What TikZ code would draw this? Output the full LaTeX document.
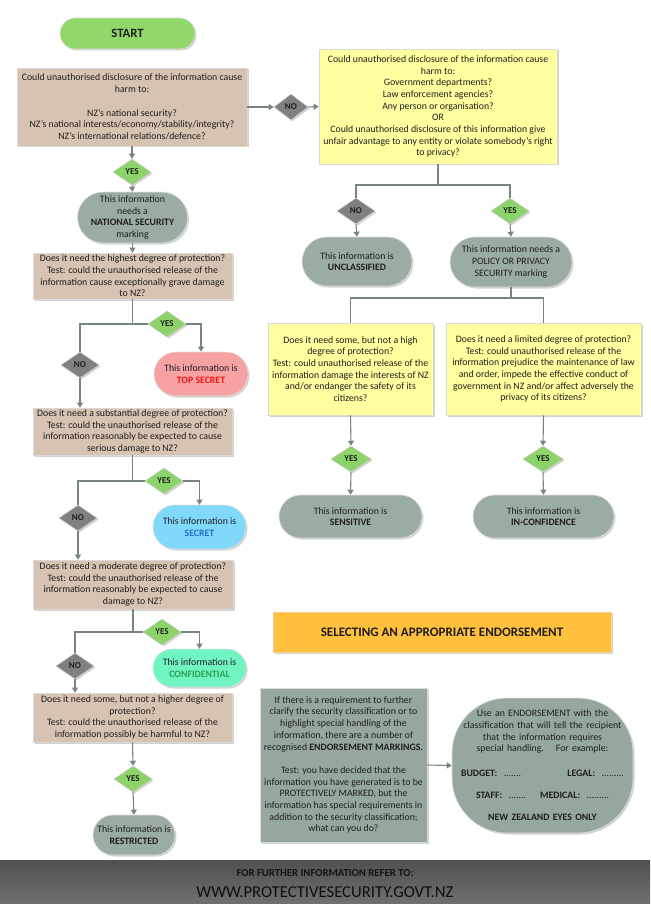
\documentclass[tikz,border=0pt]{standalone}
\usepackage{fontspec}
\setmainfont{Carlito}
\usetikzlibrary{arrows.meta,shapes.geometric,shapes.misc,shadows}
\definecolor{conn}{RGB}{118,133,128}
\definecolor{tanf}{RGB}{214,195,177}
\definecolor{yelf}{RGB}{255,255,160}
\definecolor{pillf}{RGB}{155,172,162}
\definecolor{nof}{RGB}{128,128,128}
\definecolor{yesf}{RGB}{140,212,105}
\definecolor{startf}{RGB}{145,215,105}
\definecolor{tsf}{RGB}{246,162,162}
\definecolor{tstext}{RGB}{240,20,20}
\definecolor{secf}{RGB}{128,216,250}
\definecolor{sectext}{RGB}{30,115,200}
\definecolor{conff}{RGB}{112,245,192}
\definecolor{conftext}{RGB}{40,160,80}
\definecolor{orangef}{RGB}{255,192,62}
\definecolor{endf}{RGB}{150,168,158}
\definecolor{txt}{RGB}{30,30,30}
\begin{document}
\begin{tikzpicture}[x=1pt,y=-1pt,
  every node/.style={text=txt},
  shad/.style={drop shadow={shadow xshift=1.5pt,shadow yshift=-1.5pt,opacity=0.3,fill=black!60}},
  box/.style={rectangle,draw=white!70!gray,line width=0.6pt,align=center,inner sep=1pt,
    font=\fontsize{9.8}{11.7}\selectfont,shad},
  tanbox/.style={box,fill=tanf},
  yelbox/.style={box,fill=yelf},
  pill/.style={rounded rectangle,draw=white!75!gray,line width=0.6pt,align=center,inner sep=1pt,
    font=\fontsize{9.8}{11.7}\selectfont,shad},
  graypill/.style={pill,fill=pillf},
  dia/.style={diamond,minimum width=38pt,minimum height=26pt,inner sep=0pt,
    font=\bfseries\fontsize{9}{10}\selectfont,draw=white!60!gray,line width=0.5pt,shad},
  nodia/.style={dia,fill=nof},
  yesdia/.style={dia,fill=yesf},
  cline/.style={draw=conn,line width=1.1pt},
  arr/.style={cline,-{Triangle[width=6pt,length=5pt]}}
]
\useasboundingbox (0,0) rectangle (650,904);

% ---------- top ----------
\node[pill,fill=startf,minimum width=137pt,minimum height=31pt,
  font=\bfseries\fontsize{12.7}{14}\selectfont] (start) at (127.5,33.5) {START};

\node[tanbox,minimum width=230pt,minimum height=78pt] (q1) at (132,107)
 {Could unauthorised disclosure of the information cause\\harm to:\\[11.7pt]NZ’s national security?\\NZ’s national interests/economy/stability/integrity?\\NZ’s international relations/defence?};

\node[nodia,minimum width=34pt] (no1) at (291,107) {NO};

\node[yelbox,minimum width=238pt,minimum height=115pt] (q2) at (438,106.5)
 {Could unauthorised disclosure of the information cause\\harm to:\\Government departments?\\Law enforcement agencies?\\Any person or organisation?\\OR\\Could unauthorised disclosure of this information give\\unfair advantage to any entity or violate somebody’s right\\to privacy?};

\node[nodia] (no2) at (356,211) {NO};
\node[yesdia] (yes2) at (510,211) {YES};

\node[graypill,minimum width=112pt,minimum height=49pt] (unclass) at (357,261.5)
 {This information is\\\textbf{UNCLASSIFIED}};
\node[graypill,minimum width=124pt,minimum height=50pt] (policy) at (511,262)
 {This information needs a\\POLICY OR PRIVACY\\SECURITY marking};

\node[yelbox,minimum width=165pt,minimum height=92pt] (q3) at (350.5,369)
 {Does it need some, but not a high\\degree of protection?\\Test: could unauthorised release of the\\information damage the interests of NZ\\and/or endanger the safety of its\\citizens?};
\node[yelbox,minimum width=195pt,minimum height=92pt] (q4) at (543.5,369)
 {Does it need a limited degree of protection?\\Test: could unauthorised release of the\\information prejudice the maintenance of law\\and order, impede the effective conduct of\\government in NZ and/or affect adversely the\\privacy of its citizens?};

\node[yesdia,minimum width=40pt] (yes3) at (351,459) {YES};
\node[yesdia,minimum width=40pt] (yes4) at (543,459) {YES};

\node[graypill,minimum width=145pt,minimum height=43pt] (sensitive) at (350.5,516.5)
 {This information is\\\textbf{SENSITIVE}};
\node[graypill,minimum width=143pt,minimum height=43pt] (inconf) at (543.5,516.5)
 {This information is\\\textbf{IN-CONFIDENCE}};

% ---------- left column ----------
\node[yesdia] (yes1) at (132,172) {YES};
\node[graypill,minimum width=95pt,minimum height=51pt] (natsec) at (132.5,217.5)
 {This information\\needs a\\\textbf{NATIONAL SECURITY}\\marking};

\node[tanbox,minimum width=199pt,minimum height=46pt] (q5) at (132.5,276)
 {Does it need the highest degree of protection?\\Test: could the unauthorised release of the\\information cause exceptionally grave damage\\to NZ?};
\node[yesdia] (yes5) at (167,324) {YES};
\node[nodia] (no5) at (80,365) {NO};
\node[pill,fill=tsf,minimum width=96pt,minimum height=44pt] (topsecret) at (201,374)
 {This information is\\\textbf{\textcolor{tstext}{TOP SECRET}}};

\node[tanbox,minimum width=199pt,minimum height=47pt] (q6) at (132.5,431.5)
 {Does it need a substantial degree of protection?\\Test: could the unauthorised release of the\\information reasonably be expected to cause\\serious damage to NZ?};
\node[yesdia] (yes6) at (164,481) {YES};
\node[nodia] (no6) at (78,518) {NO};
\node[pill,fill=secf,minimum width=95pt,minimum height=44pt] (secret) at (199.5,527)
 {This information is\\\textbf{\textcolor{sectext}{SECRET}}};

\node[tanbox,minimum width=200pt,minimum height=49pt] (q7) at (133,584.5)
 {Does it need a moderate degree of protection?\\Test: could the unauthorised release of the\\information reasonably be expected to cause\\damage to NZ?};
\node[yesdia] (yes7) at (162,632) {YES};
\node[nodia] (no7) at (75,666) {NO};
\node[pill,fill=conff,minimum width=95pt,minimum height=38pt] (confidential) at (199.5,668)
 {This information is\\\textbf{\textcolor{conftext}{CONFIDENTIAL}}};

\node[tanbox,minimum width=199pt,minimum height=49pt] (q8) at (132.5,717.5)
 {Does it need some, but not a higher degree of\\protection?\\Test: could the unauthorised release of the\\information possibly be harmful to NZ?};
\node[yesdia] (yes8) at (133,779) {YES};
\node[graypill,minimum width=84pt,minimum height=40pt] (restricted) at (134,835)
 {This information is\\\textbf{RESTRICTED}};

% ---------- endorsement ----------
\node[box,fill=orangef,draw=white!60!orange,minimum width=338pt,minimum height=40pt,
  font=\bfseries\fontsize{13}{15}\selectfont] (title) at (442,632)
 {SELECTING AN APPROPRIATE ENDORSEMENT};

\node[box,fill=endf,minimum width=167pt,minimum height=154pt] (endbox) at (343.5,765)
 {If there is a requirement to further\\clarify the security classification or to\\highlight special handling of the\\information, there are a number of\\recognised \textbf{ENDORSEMENT MARKINGS.}\\[11.7pt]Test: you have decided that the\\information you have generated is to be\\PROTECTIVELY MARKED, but the\\information has special requirements in\\addition to the security classification;\\what can you do?};

\node[rectangle,rounded corners=55pt,fill=endf,draw=white!75!gray,line width=0.6pt,shad,
  minimum width=181pt,minimum height=135pt,text width=163pt,align=center,inner sep=1pt,
  font=\fontsize{9.8}{11.7}\selectfont] (endoval) at (542.5,765.5)
 {Use an ENDORSEMENT with the\\classification that will tell the recipient\\that the information requires\\special handling.\hspace{12pt}For example:\\[13pt]
  \textbf{BUDGET:}\ \ .......\hfill\textbf{LEGAL:}\ \ .........\\[10pt]
  \textbf{STAFF:}\ \ .......\hspace{14pt}\textbf{MEDICAL:}\ \ .........\\[11pt]
  \textbf{NEW ZEALAND EYES ONLY}};

% ---------- banner ----------
\fill[top color={rgb,255:red,80;green,80;blue,80},bottom color={rgb,255:red,112;green,112;blue,112}]
  (0,860) rectangle (650,904);
\node[font=\bfseries\fontsize{10.7}{12}\selectfont,text={rgb,255:red,20;green,20;blue,20}] (bn1) at (325,873.5)
 {FOR FURTHER INFORMATION REFER TO:};
\node[font=\fontsize{16.7}{19}\selectfont,text={rgb,255:red,15;green,15;blue,15}] (bn2) at (325,892)
 {WWW.PROTECTIVESECURITY.GOVT.NZ};

% ---------- connectors ----------
\draw[arr] (q1.east) -- (no1.west);
\draw[arr] (no1.east) -- (q2.west);
\coordinate (j2) at (438,185);
\draw[cline] (q2.south) -- (j2);
\draw[cline] (j2) -| (no2.north);
\draw[cline] (j2) -| (yes2.north);
\draw[arr] (no2.south) -- (unclass.north);
\draw[arr] (yes2.south) -- (policy.north);
\coordinate (j3) at (511,298);
\draw[cline] (policy.south) -- (j3);
\draw[cline] (j3) -| (q3.north);
\draw[cline] (j3) -| (q4.north);
\draw[arr] (q3.south) -- (yes3.north);
\draw[arr] (yes3.south) -- (sensitive.north);
\draw[arr] (q4.south) -- (yes4.north);
\draw[arr] (yes4.south) -- (inconf.north);

\draw[arr] (q1.south) -- (yes1.north);
\draw[arr] (yes1.south) -- (natsec.north);
\draw[arr] (natsec.south) -- (q5.north);

\coordinate (b5) at (q5.south |- yes5.west);
\draw[cline] (q5.south) -- (b5) -- (yes5.west);
\draw[cline] (b5) -| (no5.north);
\draw[arr] (yes5.east) -| (topsecret.north);
\draw[arr] (no5.south) -- (no5.south |- q6.north);

\coordinate (b6) at (q6.south |- yes6.west);
\draw[cline] (q6.south) -- (b6) -- (yes6.west);
\draw[cline] (b6) -| (no6.north);
\draw[arr] (yes6.east) -| (secret.north);
\draw[arr] (no6.south) -- (no6.south |- q7.north);

\coordinate (b7) at (q7.south |- yes7.west);
\draw[cline] (q7.south) -- (b7) -- (yes7.west);
\draw[cline] (b7) -| (no7.north);
\draw[arr] (yes7.east) -| (confidential.north);
\draw[arr] (no7.south) -- (no7.south |- q8.north);

\draw[arr] (q8.south) -- (yes8.north);
\draw[arr] (yes8.south) -- (restricted.north);

\draw[arr] (endbox.east) -- (endoval.west);
\end{tikzpicture}
\end{document}
